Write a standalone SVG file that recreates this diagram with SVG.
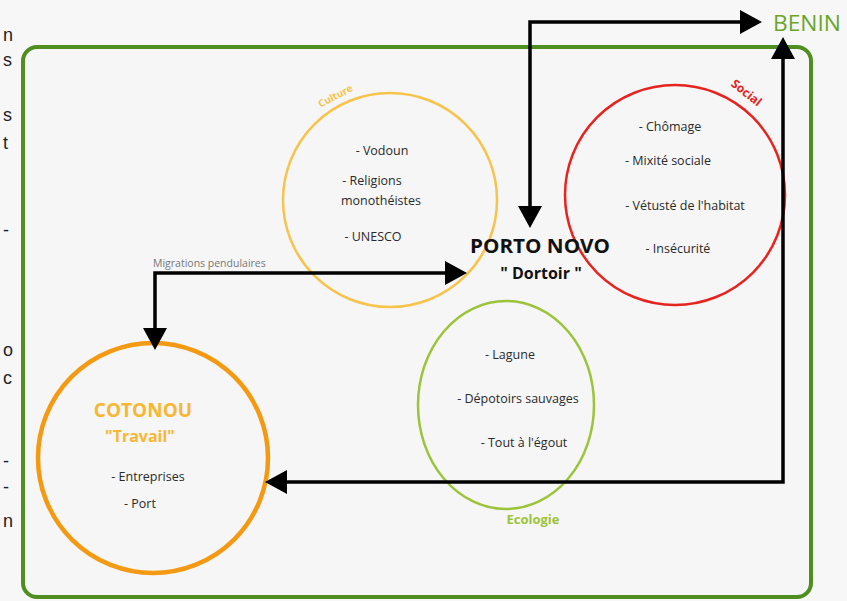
<svg xmlns="http://www.w3.org/2000/svg" width="847" height="601" viewBox="0 0 847 601">
<style>
.t{font-family:"Open Sans","Liberation Sans",sans-serif;font-size:12.5px;fill:#2a2a2a;text-anchor:middle}
.edge{font-family:"Liberation Sans",sans-serif;font-size:18px;fill:#222}
.conn{fill:none;stroke:#000;stroke-width:3.5}
</style>
<defs>
<marker id="arrow" viewBox="0 0 22 24" refX="4" refY="12" markerWidth="22" markerHeight="24" markerUnits="userSpaceOnUse" orient="auto-start-reverse">
<path d="M0,0 L22,12 L0,24 z" fill="#000"/>
</marker>
</defs>
<rect width="847" height="601" fill="#f7f7f7"/>
<g id="edge-text">
<text class="edge" x="3" y="41">n</text>
<text class="edge" x="3" y="66">s</text>
<text class="edge" x="3" y="121">s</text>
<text class="edge" x="3" y="149">t</text>
<text class="edge" x="3" y="236">-</text>
<text class="edge" x="3" y="356">o</text>
<text class="edge" x="3" y="384">c</text>
<text class="edge" x="3" y="467">-</text>
<text class="edge" x="3" y="493">-</text>
<text class="edge" x="3" y="527">n</text>
</g>
<g id="benin">
<rect x="23" y="47" width="788" height="550" rx="14" fill="#f6f6f6" stroke="#4f8f1f" stroke-width="4"/>
<text x="773" y="31" font-family="Open Sans, Liberation Sans, sans-serif" font-size="22" fill="#6aa52a" textLength="68" lengthAdjust="spacingAndGlyphs">BENIN</text>
</g>
<g id="culture">
<circle cx="390" cy="200" r="107" fill="none" stroke="#f7c34a" stroke-width="2.5"/>
<text x="337" y="99" transform="rotate(-28 337 99)" font-family="Open Sans, sans-serif" font-size="10" font-weight="bold" fill="#f7c34a" text-anchor="middle">Culture</text>
<text class="t" x="382" y="155">- Vodoun</text>
<text class="t" x="372" y="185">- Religions</text>
<text class="t" x="381" y="205">monothéistes</text>
<text class="t" x="373" y="241" font-size="10.5">- UNESCO</text>
</g>
<g id="social">
<circle cx="675" cy="195" r="110" fill="none" stroke="#e52420" stroke-width="2.5"/>
<text x="744" y="96" transform="rotate(38 744 96)" font-family="Open Sans, sans-serif" font-size="12" font-weight="bold" fill="#e52420" text-anchor="middle">Social</text>
<text class="t" x="670" y="131">- Chômage</text>
<text class="t" x="668" y="165">- Mixité sociale</text>
<text class="t" x="685" y="210">- Vétusté de l'habitat</text>
<text class="t" x="678" y="253">- Insécurité</text>
</g>
<g id="ecologie">
<ellipse cx="506" cy="405" rx="88" ry="104" fill="none" stroke="#9bc43a" stroke-width="2.5"/>
<text x="533" y="524" font-family="Open Sans, sans-serif" font-size="13" font-weight="bold" fill="#9bc43a" text-anchor="middle">Ecologie</text>
<text class="t" x="510" y="359">- Lagune</text>
<text class="t" x="518" y="403">- Dépotoirs sauvages</text>
<text class="t" x="524" y="447">- Tout à l'égout</text>
</g>
<g id="porto-novo">
<text x="540" y="253" font-family="Open Sans, Liberation Sans, sans-serif" font-size="20" font-weight="bold" fill="#111" text-anchor="middle" textLength="140" lengthAdjust="spacingAndGlyphs">PORTO NOVO</text>
<text x="541" y="279" font-family="Open Sans, Liberation Sans, sans-serif" font-size="16" font-weight="bold" fill="#111" text-anchor="middle">" Dortoir "</text>
</g>
<g id="cotonou">
<circle cx="153" cy="458" r="115" fill="none" stroke="#f39a12" stroke-width="4.5"/>
<text x="143" y="417" font-family="Open Sans, sans-serif" font-size="19" font-weight="bold" fill="#f8b733" text-anchor="middle">COTONOU</text>
<text x="140" y="442" font-family="Open Sans, sans-serif" font-size="16" font-weight="bold" fill="#f8b733" text-anchor="middle">"Travail"</text>
<text class="t" x="148" y="481">- Entreprises</text>
<text class="t" x="140" y="508">- Port</text>
</g>
<g id="connectors">
<path class="conn" d="M530,210 V22 H744" marker-end="url(#arrow)" marker-start="url(#arrow)"/>
<path class="conn" d="M155,332 V273 H449" marker-end="url(#arrow)" marker-start="url(#arrow)"/>
<path class="conn" d="M283,482 H783 V55" marker-end="url(#arrow)" marker-start="url(#arrow)"/>
<text x="153" y="267" font-family="Open Sans, sans-serif" font-size="10.5" fill="#777">Migrations pendulaires</text>
</g>
</svg>
